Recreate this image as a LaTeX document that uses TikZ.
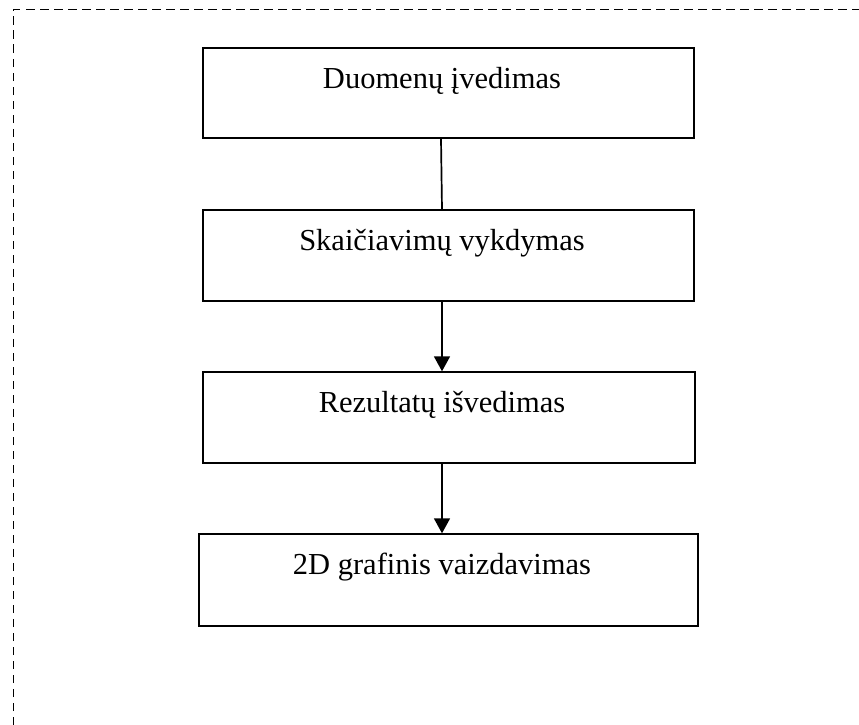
\documentclass[tikz,border=0pt]{standalone}
\usepackage{fontspec}
\setmainfont{Liberation Serif}
\usetikzlibrary{arrows.meta}

\tikzset{
  stage/.style={draw=black, line width=1.8pt, rectangle, inner sep=0pt, anchor=north west},
  caption/.style={font=\fontsize{30.5}{36}\selectfont, inner sep=0pt, anchor=center},
  flow/.style={line width=1.7pt, -{Triangle[width=16pt,length=15pt]}},
  plain/.style={line width=1.7pt},
  frame/.style={line width=1.6pt, dash pattern=on 8.5pt off 5.5pt}
}

\begin{document}
\begin{tikzpicture}[x=1pt, y=-1pt]
\useasboundingbox (0,0) rectangle (859,725);

% outer dashed frame (open at right and bottom)
\draw[frame] (13.5,725) -- (13.5,9.5) -- (859,9.5);

% vertical axis of the connectors
\coordinate (axisA) at (441,0);
\coordinate (axisB) at (442,0);

% process stages
\node[stage, minimum width=490.4pt, minimum height=90pt] (s1) at (202.3,47.3) {};
\node[stage, minimum width=491pt, minimum height=90.7pt] (s2) at (202.3,209.3) {};
\node[stage, minimum width=492pt, minimum height=91pt] (s3) at (202,371.3) {};
\node[stage, minimum width=499.6pt, minimum height=91.4pt] (s4) at (197.7,533.3) {};

% stage captions
\node[caption] (t1) at ([yshift=-34pt]s1.north -| axisB) {Duomenų įvedimas};
\node[caption] (t2) at ([yshift=-34pt]s2.north -| axisB) {Skaičiavimų vykdymas};
\node[caption] (t3) at ([yshift=-34pt]s3.north -| axisB) {Rezultatų išvedimas};
\node[caption] (t4) at ([yshift=-34pt]s4.north -| axisB) {2D grafinis vaizdavimas};

% connectors
\draw[plain] (s1.south -| axisA) -- (s2.north -| axisB);
\draw[flow] (s2.south -| axisB) -- (s3.north -| axisB);
\draw[flow] (s3.south -| axisB) -- (s4.north -| axisB);
\end{tikzpicture}
\end{document}
